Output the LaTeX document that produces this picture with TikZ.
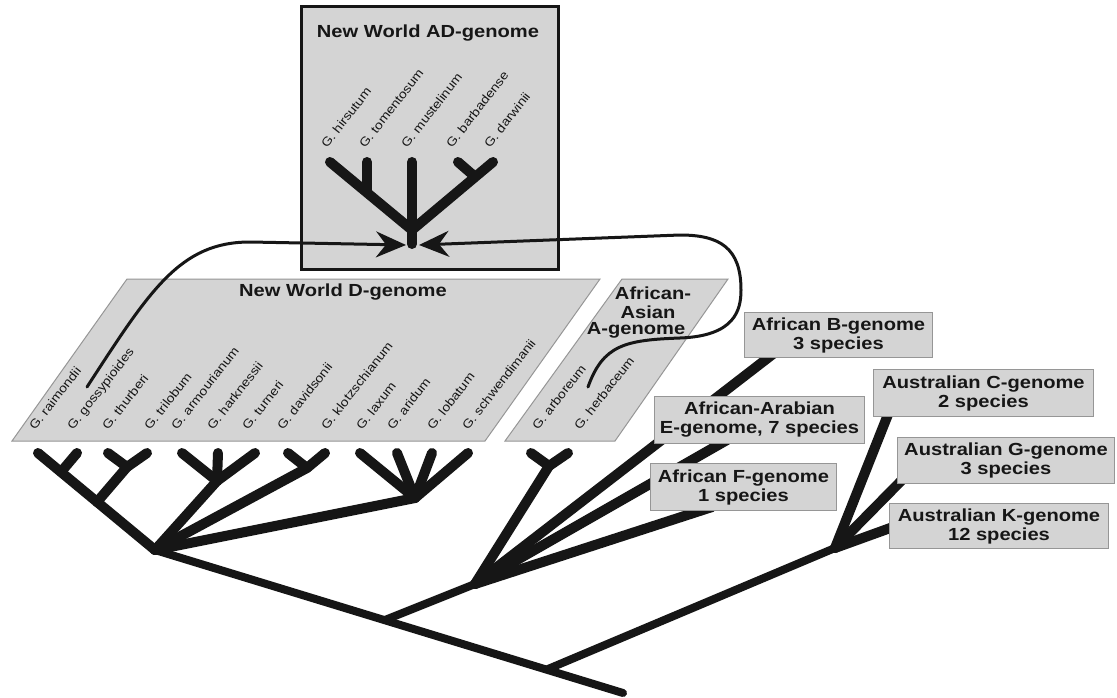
\documentclass[tikz,border=0pt]{standalone}
\usepackage{fontspec}
\setmainfont{Liberation Sans}[FakeStretch=1.15]
\usetikzlibrary{arrows.meta}
\definecolor{boxfill}{RGB}{212,212,212}
\definecolor{boxline}{RGB}{150,150,150}
\definecolor{ink}{RGB}{22,22,22}
\begin{document}
\begin{tikzpicture}[x=1pt,y=-1pt,
  br/.style={line width=10pt, line cap=round, line join=round, ink},
  trunk/.style={line width=8pt, line cap=round, ink},
  conn/.style={line width=3pt, line cap=round, ink, -{Stealth[length=30pt,width=26pt,inset=10pt]}},
  gbox/.style={draw=boxline, line width=1pt, fill=boxfill, inner sep=0pt, align=center, anchor=north west,
     text=ink, font=\fontsize{17.5}{19}\selectfont\bfseries},
  para/.style={draw=boxline, line width=1pt, fill=boxfill},
  ttl/.style={text=ink, inner sep=0pt, font=\fontsize{17.5}{19}\selectfont\bfseries},
  lbl/.style={rotate=52, anchor=base west, inner sep=0pt, text=ink, font=\fontsize{12.2}{14}\selectfont}]
\useasboundingbox (0,0) rectangle (1117,698);
\fill[white] (0,0) rectangle (1117,698);

% --- group backgrounds ---
\draw[draw=ink, line width=3pt, fill=boxfill] (301,7) rectangle (558,269);
\draw[para] (12,441) -- (127,279) -- (600,279) -- (485,441) -- cycle;
\draw[para] (505,441) -- (622,279) -- (728,279) -- (615,441) -- cycle;

% --- coordinates of the tree ---
\coordinate (Dn) at (155,550);
\coordinate (T1) at (385,620);
\coordinate (T2) at (548,669);
\coordinate (Root) at (623,693);
\coordinate (An) at (475,584);
\coordinate (Aun) at (835,548);
% D clade
\coordinate (d1) at (38,453);  \coordinate (d2) at (77,453);  \coordinate (j1) at (61,472);
\coordinate (d3) at (108,453); \coordinate (d4) at (147,453); \coordinate (j2) at (127,467);
\coordinate (j2b) at (97,502);
\coordinate (d5) at (182,453); \coordinate (d6) at (218,453); \coordinate (d7) at (255,453);
\coordinate (j3) at (217,481);
\coordinate (d8) at (288,453); \coordinate (d9) at (325,453); \coordinate (j4) at (307,468);
\coordinate (d10) at (360,453); \coordinate (d11) at (397,453); \coordinate (d12) at (432,453);
\coordinate (d13) at (468,453); \coordinate (j5) at (415,498);
% A clade
\coordinate (a1) at (531,453); \coordinate (a2) at (568,453); \coordinate (aj) at (549,466);
% box ends
\coordinate (Bend) at (773,354);
\coordinate (Eend) at (727,440);
\coordinate (Fend) at (712,507);
\coordinate (Cend) at (889,412);
\coordinate (Gend) at (903,479);
\coordinate (Kend) at (893,527);
% AD clade
\coordinate (h) at (330,162);  \coordinate (t) at (367,162);  \coordinate (m) at (412,162);
\coordinate (b) at (458,162);  \coordinate (dw) at (493,162);
\coordinate (adj) at (412,230); \coordinate (adr) at (412,244);
\coordinate (tj) at (367,192); \coordinate (bj) at (473,175);
\coordinate (tipL) at (406,245); \coordinate (tipR) at (419,245);
\coordinate (startL) at (87,387); \coordinate (startR) at (588,387);

% --- trunk ---
\draw[trunk] (Dn) -- (Root);
\draw[trunk] (T1) -- (An);
\draw[trunk] (T2) -- (Aun);

% --- D clade ---
\draw[br] (d1) -- (Dn);
\draw[br] (d2) -- (j1);
\draw[br] (d3) -- (j2) -- (d4);
\draw[br] (j2) -- (j2b);
\draw[br] (d5) -- (j3);
\draw[br] (d6) -- (j3);
\draw[br] (d7) -- (j3);
\draw[br] (j3) -- (Dn);
\draw[br] (d8) -- (j4) -- (d9);
\draw[br] (j4) -- (Dn);
\draw[br] (d10) -- (j5);
\draw[br] (d11) -- (j5);
\draw[br] (d12) -- (j5);
\draw[br] (d13) -- (j5);
\draw[br] (j5) -- (Dn);

% --- A/B/E/F ---
\draw[br] (a1) -- (aj) -- (a2);
\draw[br] (aj) -- (An);
\draw[br] (An) -- (Bend);
\draw[br] (An) -- (Eend);
\draw[br] (An) -- (Fend);

% --- Australian ---
\draw[br] (Aun) -- (Cend);
\draw[br] (Aun) -- (Gend);
\draw[br] (Aun) -- (Kend);

% --- AD clade ---
\draw[br] (h) -- (adj) -- (dw);
\draw[br] (m) -- (adr);
\draw[br] (t) -- (tj);
\draw[br] (b) -- (bj);

% --- connectors into AD ---
\draw[conn] (startL) .. controls (150,290) and (180,242) .. (250,242) -- (tipL);
\draw[conn] (startR) .. controls (603,345) and (625,340) .. (680,338)
   .. controls (735,336) and (741,310) .. (741,290)
   .. controls (741,248) and (720,235) .. (680,235) -- (tipR);

% --- genome boxes ---
\node[gbox, minimum width=188pt, minimum height=45pt] (Bbox) at (744,312) {African B-genome\\3 species};
\node[gbox, minimum width=210pt, minimum height=47pt] (Ebox) at (654,396) {African-Arabian\\E-genome, 7 species};
\node[gbox, minimum width=186pt, minimum height=47pt] (Fbox) at (650,463) {African F-genome\\1 species};
\node[gbox, minimum width=220pt, minimum height=47pt] (Cbox) at (873,369) {Australian C-genome\\2 species};
\node[gbox, minimum width=217pt, minimum height=46pt] (Gbox) at (897,437) {Australian G-genome\\3 species};
\node[gbox, minimum width=219pt, minimum height=45pt] (Kbox) at (889,503) {Australian K-genome\\12 species};

% --- titles ---
\node[ttl] (ADt) at (428,33) {New World AD-genome};
\node[ttl] (Dt) at (343,292) {New World D-genome};
\node[ttl] (At1) at (653,293) {African-};
\node[ttl] (At2) at (648,312) {Asian};
\node[ttl] (At3) at (636,330) {A-genome};

% --- species labels ---
\node[lbl] (l1) at (35,431) {G. raimondii};
\node[lbl] (l2) at (73,431) {G. gossypioides};
\node[lbl] (l3) at (108,431) {G. thurberi};
\node[lbl] (l4) at (150,431) {G. trilobum};
\node[lbl] (l5) at (177,431) {G. armourianum};
\node[lbl] (l6) at (213,431) {G. harknessii};
\node[lbl] (l7) at (248,431) {G. turneri};
\node[lbl] (l8) at (283,431) {G. davidsonii};
\node[lbl] (l9) at (327,431) {G. klotzschianum};
\node[lbl] (l10) at (362,431) {G. laxum};
\node[lbl] (l11) at (393,431) {G. aridum};
\node[lbl] (l12) at (433,431) {G. lobatum};
\node[lbl] (l13) at (468,431) {G. schwendimanii};
\node[lbl] (la1) at (538,431) {G. arboreum};
\node[lbl] (la2) at (580,431) {G. herbaceum};
\node[lbl] (ad1) at (327,149) {G. hirsutum};
\node[lbl] (ad2) at (365,149) {G. tomentosum};
\node[lbl] (ad3) at (407,149) {G. mustelinum};
\node[lbl] (ad4) at (452,149) {G. barbadense};
\node[lbl] (ad5) at (490,149) {G. darwinii};
\end{tikzpicture}
\end{document}
